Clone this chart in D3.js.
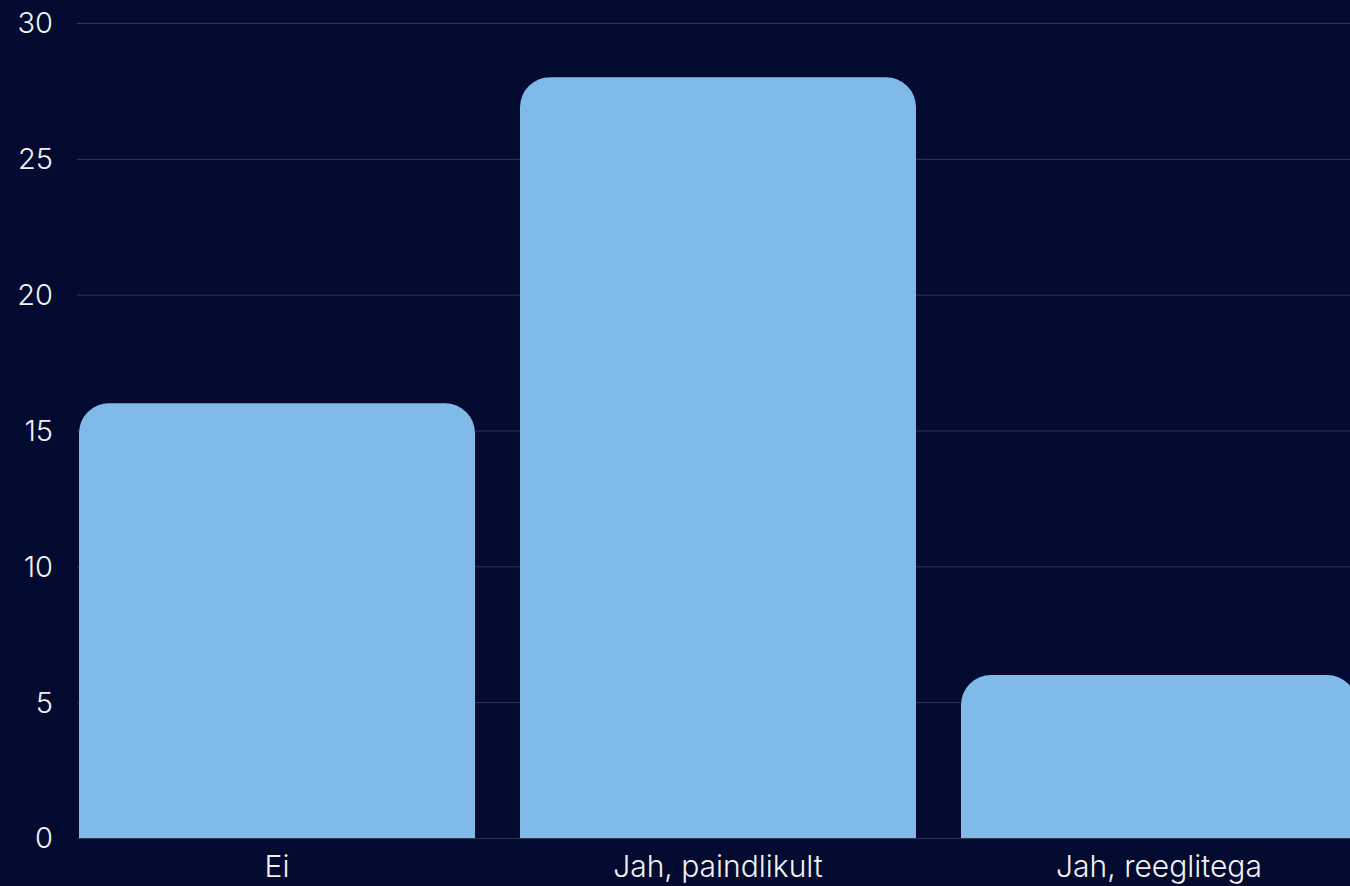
<!DOCTYPE html>
<html>
<head>
<meta charset="utf-8">
<script src="https://cdn.jsdelivr.net/npm/d3@7"></script>
<style>
    html, body { margin: 0; padding: 0; background: #040b30; overflow: hidden; }
    text { font-family: Inter, "Noto Sans", sans-serif; font-weight: 300; fill: #f2f2f2; }
</style>
</head>
<body>
<div id="chart"></div>
<script>
    // data
    var categories = ["Ei", "Jah, paindlikult", "Jah, reeglitega"];
    var counts = [16, 28, 6];
    var yTicks = [0, 5, 10, 15, 20, 25, 30];

    var width = 1350, height = 886;
    var margin = {top: 23, left: 77, bottom: 48};
    var radius = 30;

    var svg = d3.select("#chart").append("svg")
        .attr("width", width)
        .attr("height", height);

    var x = d3.scaleBand()
        .domain(categories)
        .range([margin.left, 1359])
        .paddingInner(0.102)
        .paddingOuter(0.0045);

    var y = d3.scaleLinear()
        .domain([0, 30])
        .range([height - margin.bottom, margin.top]);

    // grid lines
    svg.append("g")
        .selectAll("line")
        .data(yTicks)
        .enter().append("line")
        .attr("x1", margin.left)
        .attr("x2", width)
        .attr("y1", function(d) { return y(d) + 0.5; })
        .attr("y2", function(d) { return y(d) + 0.5; })
        .attr("stroke", "#2f3656")
        .attr("stroke-width", 1);

    // y tick labels
    svg.append("g")
        .selectAll("text")
        .data(yTicks)
        .enter().append("text")
        .attr("x", 53)
        .attr("y", function(d) { return y(d); })
        .attr("dy", "0.36em")
        .attr("text-anchor", "end")
        .attr("font-size", 29)
        .text(function(d) { return d; });

    // bars with rounded top corners
    function barPath(x0, w, yTop, yBase) {
        var r = Math.min(radius, (yBase - yTop), w / 2);
        return "M" + x0 + "," + yBase +
            "V" + (yTop + r) +
            "A" + r + "," + r + " 0 0 1 " + (x0 + r) + "," + yTop +
            "H" + (x0 + w - r) +
            "A" + r + "," + r + " 0 0 1 " + (x0 + w) + "," + (yTop + r) +
            "V" + yBase + "Z";
    }

    svg.append("g")
        .selectAll("path")
        .data(categories)
        .enter().append("path")
        .attr("fill", "#7fbae8")
        .attr("d", function(d, i) {
            return barPath(x(d), x.bandwidth(), y(counts[i]), y(0));
        });

    // x labels
    svg.append("g")
        .selectAll("text")
        .data(categories)
        .enter().append("text")
        .attr("x", function(d) { return x(d) + x.bandwidth() / 2; })
        .attr("y", 877)
        .attr("text-anchor", "middle")
        .attr("font-size", 30)
        .text(function(d) { return d; });
</script>
</body>
</html>
